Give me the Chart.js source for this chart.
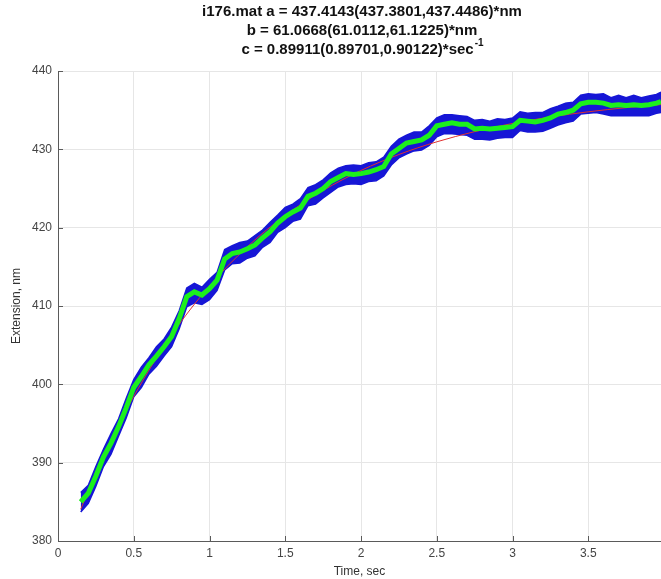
<!DOCTYPE html>
<html>
<head>
<meta charset="utf-8">
<script src="https://cdn.jsdelivr.net/npm/chart.js@4.4.1/dist/chart.umd.min.js"></script>
<style>
  html, body { margin: 0; padding: 0; background: #fff; }
  #wrap { width: 661px; height: 579px; }
</style>
</head>
<body>
<div id="wrap"><canvas id="c"></canvas></div>
<script>
// title text (the last line gets a superscript)
const titleLines = [
  "i176.mat a = 437.4143(437.3801,437.4486)*nm",
  "b = 61.0668(61.0112,61.1225)*nm",
  "c = 0.89911(0.89701,0.90122)*sec"
];
const titleSup = "-1";

// time axis samples, sec
const timeSec = [0.15,0.2,0.25,0.3,0.35,0.4,0.45,0.5,0.55,0.6,0.65,0.7,0.75,0.8,0.85,0.9,0.95,1.0,
  1.05,1.1,1.15,1.2,1.25,1.3,1.35,1.4,1.45,1.5,1.55,1.6,1.65,1.7,1.75,1.8,1.85,1.9,1.95,2.0,
  2.05,2.1,2.15,2.2,2.25,2.3,2.35,2.4,2.45,2.5,2.55,2.6,2.65,2.7,2.75,2.8,2.85,2.9,2.95,3.0,
  3.05,3.1,3.15,3.2,3.25,3.3,3.35,3.4,3.45,3.5,3.55,3.6,3.65,3.7,3.75,3.8,3.85,3.9,3.95,3.98];

// filtered trace (green), nm
const smoothNm = [385.0,386.1,388.3,390.7,392.5,394.6,397.0,399.6,401.0,402.5,403.6,404.8,406.1,408.4,411.2,411.8,411.4,412.2,
  413.3,416.0,416.7,416.9,417.3,417.8,418.7,419.5,420.6,421.4,422.0,422.5,424.0,424.4,425.0,425.9,426.4,426.9,426.8,426.9,
  427.1,427.4,427.8,429.4,430.1,430.8,431.0,431.2,431.8,433.0,433.2,433.4,433.2,433.2,432.6,432.7,432.6,432.7,432.8,432.9,
  433.7,433.6,433.5,433.7,434.0,434.5,434.7,435.0,435.8,436.0,436.0,435.9,435.6,435.7,435.6,435.7,435.6,435.7,435.9,436.1];

// raw trace spread (blue): upper and lower edge, nm
const upperNm = [386.2,387.1,389.5,391.7,393.7,395.6,398.2,400.6,402.2,403.4,404.8,405.8,407.3,409.4,412.3,412.9,412.4,413.4,
  414.3,417.2,417.7,418.1,418.3,419.0,419.7,420.7,421.6,422.6,423.0,423.7,425.1,425.5,426.1,427.0,427.6,427.9,428.0,427.9,
  428.3,428.4,429.0,430.4,431.3,431.8,432.2,432.2,433.0,434.0,434.4,434.4,434.3,434.2,433.7,433.8,433.6,433.9,433.8,434.0,
  434.8,434.6,434.7,434.7,435.2,435.5,435.9,436.0,436.9,437.1,437.0,437.1,436.6,436.9,436.6,436.9,436.6,436.8,437.0,437.3];
const lowerNm = [383.7,384.8,387.0,389.5,391.1,393.4,395.7,398.4,399.6,401.3,402.3,403.6,404.8,407.1,409.9,410.4,410.2,410.8,
  412.0,414.6,415.4,415.5,416.1,416.4,417.5,418.1,419.4,420.0,420.8,421.1,422.8,423.0,423.8,424.5,425.2,425.5,425.6,425.5,
  425.9,426.0,426.6,428.0,428.9,429.4,429.8,429.9,430.5,431.6,432.0,432.0,431.9,431.8,431.3,431.3,431.2,431.4,431.5,431.5,
  432.4,432.2,432.2,432.3,432.7,433.1,433.4,433.6,434.5,434.6,434.7,434.5,434.3,434.3,434.3,434.3,434.3,434.3,434.6,434.7];

// fitted curve (red)
const fitTime = [0.15,0.25,0.35,0.5,0.75,1.0,1.25,1.5,1.75,2.0,2.25,2.5,2.75,3.0,3.25,3.5,3.75,3.98];
const fitNm = [384.05,388.64,392.83,398.46,406.30,412.56,417.57,421.56,424.75,427.30,429.34,430.96,432.26,433.30,434.13,434.79,435.32,435.71];

const xTicks = [0, 0.5, 1, 1.5, 2, 2.5, 3, 3.5];
const yTicks = [380, 390, 400, 410, 420, 430, 440];

const FONT = '"Liberation Sans", Arial, Helvetica, sans-serif';
const BLUE = '#1616d6';

function pts(xs, ys) { return xs.map((x, i) => ({x: x, y: ys[i]})); }

// title + inward tick marks, drawn the MATLAB way
const matlabLook = {
  id: 'matlabLook',
  afterDraw(chart) {
    const ctx = chart.ctx;
    const area = chart.chartArea;
    const xs = chart.scales.x, ys = chart.scales.y;
    ctx.save();
    ctx.strokeStyle = '#5a5a5a';
    ctx.lineWidth = 1;
    ctx.beginPath();
    xTicks.forEach(v => {
      const px = Math.round(xs.getPixelForValue(v)) + 0.5;
      ctx.moveTo(px, area.bottom); ctx.lineTo(px, area.bottom - 5);
    });
    yTicks.forEach(v => {
      const py = Math.round(ys.getPixelForValue(v)) + 0.5;
      ctx.moveTo(area.left, py); ctx.lineTo(area.left + 5, py);
    });
    ctx.stroke();

    const cx = 362;
    ctx.fillStyle = '#111';
    ctx.textBaseline = 'middle';
    ctx.font = 'bold 15px ' + FONT;
    ctx.textAlign = 'center';
    ctx.fillText(titleLines[0], cx, 12);
    ctx.fillText(titleLines[1], cx, 31);
    const w = ctx.measureText(titleLines[2]).width;
    ctx.font = 'bold 10px ' + FONT;
    const ws = ctx.measureText(titleSup).width;
    const startX = cx - (w + ws) / 2;
    ctx.textAlign = 'left';
    ctx.font = 'bold 15px ' + FONT;
    ctx.fillText(titleLines[2], startX, 50);
    ctx.font = 'bold 10px ' + FONT;
    ctx.fillText(titleSup, startX + w + 1, 43);
    ctx.restore();
  }
};

new Chart(document.getElementById('c'), {
  type: 'line',
  data: {
    datasets: [
      {
        label: 'raw upper',
        data: pts(timeSec, upperNm),
        borderColor: BLUE,
        backgroundColor: BLUE,
        borderWidth: 1.5,
        pointRadius: 0,
        fill: '+1',
        order: 3
      },
      {
        label: 'raw lower',
        data: pts(timeSec, lowerNm),
        borderColor: BLUE,
        backgroundColor: BLUE,
        borderWidth: 1.5,
        pointRadius: 0,
        fill: false,
        order: 3
      },
      {
        label: 'fit',
        data: pts(fitTime, fitNm),
        borderColor: '#e03030',
        borderWidth: 1,
        pointRadius: 0,
        fill: false,
        cubicInterpolationMode: 'monotone',
        order: 1
      },
      {
        label: 'filtered',
        data: pts(timeSec, smoothNm),
        borderColor: '#1cf01c',
        borderWidth: 5,
        pointRadius: 0,
        fill: false,
        order: 0
      }
    ]
  },
  options: {
    responsive: true,
    maintainAspectRatio: false,
    animation: false,
    layout: { padding: { top: 71, right: 0, left: 0, bottom: 0 } },
    plugins: {
      legend: { display: false },
      tooltip: { enabled: false },
      title: { display: false }
    },
    scales: {
      x: {
        type: 'linear',
        min: 0,
        max: 3.98,
        afterBuildTicks: s => { s.ticks = xTicks.map(v => ({value: v})); },
        afterFit: s => { s.height = 38; },
        ticks: {
          color: '#444',
          font: { family: FONT, size: 12 },
          padding: 5,
          maxRotation: 0,
          callback: v => String(Math.round(v * 10) / 10)
        },
        grid: { color: '#e6e6e6', drawTicks: false },
        border: { color: '#5a5a5a', width: 1 },
        title: {
          display: true,
          text: 'Time, sec',
          color: '#333',
          font: { family: FONT, size: 12 },
          padding: { top: 0, bottom: 0 }
        }
      },
      y: {
        min: 380,
        max: 440,
        afterBuildTicks: s => { s.ticks = yTicks.map(v => ({value: v})); },
        afterFit: s => { s.width = 58; },
        ticks: {
          color: '#444',
          font: { family: FONT, size: 12 },
          padding: 6
        },
        grid: { color: '#e6e6e6', drawTicks: false },
        border: { color: '#5a5a5a', width: 1 },
        title: {
          display: true,
          text: 'Extension, nm',
          color: '#333',
          font: { family: FONT, size: 12 },
          padding: { top: 9, bottom: 0 }
        }
      }
    }
  },
  plugins: [matlabLook]
});
</script>
</body>
</html>
